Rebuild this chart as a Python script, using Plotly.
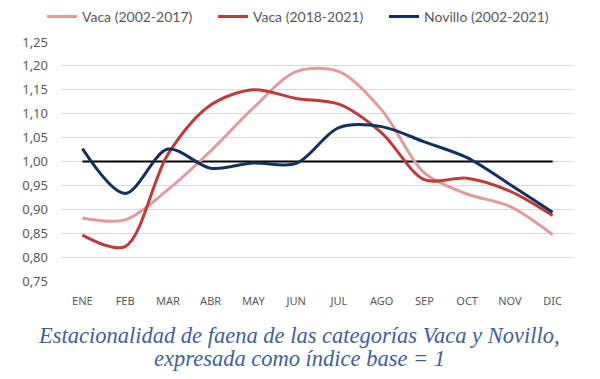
import plotly.graph_objects as go

months = ["ENE", "FEB", "MAR", "ABR", "MAY", "JUN", "JUL", "AGO", "SEP", "OCT", "NOV", "DIC"]
vaca_2002_2017 = [0.882, 0.878, 0.941, 1.022, 1.112, 1.188, 1.188, 1.108, 0.976, 0.932, 0.906, 0.847]
vaca_2018_2021 = [0.846, 0.822, 1.015, 1.118, 1.150, 1.132, 1.120, 1.060, 0.962, 0.965, 0.938, 0.887]
novillo_2002_2021 = [1.027, 0.933, 1.026, 0.986, 0.997, 0.996, 1.071, 1.073, 1.041, 1.008, 0.952, 0.894]
base_index = [1.0] * 12
y_ticks = [0.75, 0.80, 0.85, 0.90, 0.95, 1.00, 1.05, 1.10, 1.15, 1.20, 1.25]
title_lines = ["Estacionalidad de faena de las categorías Vaca y Novillo,",
               "expresada como índice base = 1"]

fig = go.Figure()
series = [
    ("Vaca (2002-2017)", vaca_2002_2017, "#E39A9B"),
    ("Vaca (2018-2021)", vaca_2018_2021, "#C0393B"),
    ("Novillo (2002-2021)", novillo_2002_2021, "#13315F"),
]
fig.add_trace(go.Scatter(x=months, y=base_index, mode="lines", showlegend=False,
                         line=dict(color="#000000", width=2.2), hoverinfo="skip"))
for name, vals, col in series:
    fig.add_trace(go.Scatter(x=months, y=vals, mode="lines", name=name,
                             line=dict(color=col, width=3, shape="spline", smoothing=0.9)))

title_font = dict(family="Liberation Serif", size=22.5, color="#41609A", style="italic")
fig.update_layout(
    width=600, height=379,
    margin=dict(l=61, r=26, t=42, b=98, autoexpand=False),
    paper_bgcolor="white", plot_bgcolor="white",
    separators=",.",
    showlegend=True,
    legend=dict(orientation="h", x=-0.037, xanchor="left",
                y=1.105, yanchor="middle", font=dict(family="Lato", size=14, color="#595959"),
                itemwidth=30, tracegroupgap=0, entrywidth=126, entrywidthmode="pixels"),
    annotations=[
        dict(text=title_lines[0], xref="paper", yref="paper", x=0.464, xanchor="center",
             y=-0.228, yanchor="middle", showarrow=False, font=title_font),
        dict(text=title_lines[1], xref="paper", yref="paper", x=0.464, xanchor="center",
             y=-0.324, yanchor="middle", showarrow=False, font=title_font),
    ],
)
fig.update_xaxes(type="category", range=[-0.5, 11.5], showgrid=False, showline=False, zeroline=False,
                 ticks="", tickfont=dict(family="Noto Sans", size=11, color="#595959"), ticklabelstandoff=12)
fig.update_yaxes(range=[0.75, 1.25], tickvals=y_ticks, tickformat=".2f", showgrid=True, gridcolor="#D9D9D9",
                 gridwidth=1, zeroline=False, showline=False, ticks="",
                 tickfont=dict(family="Noto Sans", size=13, color="#595959"), ticklabelstandoff=12)

fig.write_html("out.html", config={"displayModeBar": False},
               post_script="document.body.style.margin='0';document.body.style.overflow='hidden';")
